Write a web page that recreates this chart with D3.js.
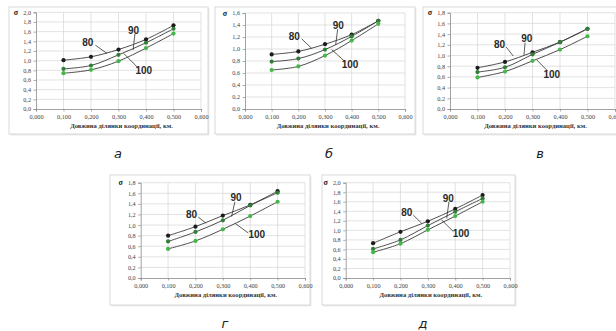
<!DOCTYPE html>
<html>
<head>
<meta charset="utf-8">
<script src="https://cdn.jsdelivr.net/npm/d3@7"></script>
<style>
  html, body { margin: 0; padding: 0; background: #fff; }
</style>
</head>
<body>
<div id="chart"></div>
<script>
// x values (km) shared by all panels
const xValues = [0.1, 0.2, 0.3, 0.4, 0.5];
const xTicks = [0, 0.1, 0.2, 0.3, 0.4, 0.5, 0.6];
const seriesNames = ['80', '90', '100'];
const panelLetters = ['а', 'б', 'в', 'г', 'д'];
const yMaxes = [2.0, 1.6, 1.8, 1.8, 2.0];
const xTitle = 'Довжина ділянки координації, км.';

// σ values
const a80 = [1.01, 1.08, 1.23, 1.44, 1.73];
const a90 = [0.83, 0.90, 1.12, 1.37, 1.66];
const a100 = [0.74, 0.81, 0.99, 1.26, 1.56];

const b80 = [0.91, 0.96, 1.08, 1.24, 1.47];
const b90 = [0.79, 0.84, 0.99, 1.21, 1.47];
const b100 = [0.65, 0.71, 0.89, 1.14, 1.42];

const c80 = [0.77, 0.88, 1.06, 1.25, 1.50];
const c90 = [0.69, 0.78, 1.02, 1.25, 1.50];
const c100 = [0.59, 0.70, 0.90, 1.11, 1.36];

const g80 = [0.80, 0.97, 1.18, 1.38, 1.64];
const g90 = [0.69, 0.87, 1.09, 1.37, 1.61];
const g100 = [0.55, 0.70, 0.92, 1.17, 1.44];

const d80 = [0.73, 0.97, 1.19, 1.45, 1.74];
const d90 = [0.61, 0.80, 1.10, 1.39, 1.67];
const d100 = [0.54, 0.72, 1.01, 1.30, 1.60];

const panelSeries = [
  [a80, a90, a100],
  [b80, b90, b100],
  [c80, c90, c100],
  [g80, g90, g100],
  [d80, d90, d100],
];

// layout: frame box, plot box, letter position
const layout = [
  { frame: [9, 7, 208, 134], plot: [36, 12.3, 201, 109], letter: [118, 153] },
  { frame: [215, 7, 415, 134], plot: [245, 13, 405, 109], letter: [329, 153] },
  { frame: [423, 7, 625, 134], plot: [450, 12.7, 615, 109], letter: [540, 153] },
  { frame: [110, 175, 310, 305], plot: [140.7, 182.7, 305, 278], letter: [225, 323] },
  { frame: [322, 175, 515, 305], plot: [345.7, 182.7, 510, 278], letter: [423, 323] },
];

// annotation text and leader lines in data units: [textX, textY, x1, y1, x2, y2]
const notes = [
  [[0.188, 1.38, 0.216, 1.32, 0.258, 1.15], [0.355, 1.63, 0.36, 1.56, 0.353, 1.22], [0.392, 0.79, 0.319, 1.15, 0.373, 0.84]],
  [[0.185, 1.21, 0.2125, 1.17, 0.25, 1.01], [0.35, 1.40, 0.3475, 1.33, 0.34, 1.07], [0.394, 0.75, 0.325, 0.99, 0.375, 0.79]],
  [[0.18, 1.21, 0.204, 1.16, 0.23, 0.99], [0.279, 1.31, 0.273, 1.24, 0.269, 1.01], [0.37, 0.65, 0.315, 0.92, 0.355, 0.71]],
  [[0.186, 1.20, 0.21, 1.15, 0.239, 1.035], [0.348, 1.52, 0.344, 1.44, 0.332, 1.16], [0.424, 0.83, 0.344, 1.035, 0.393, 0.85]],
  [[0.223, 1.38, 0.247, 1.32, 0.277, 1.15], [0.375, 1.67, 0.377, 1.60, 0.369, 1.25], [0.421, 0.93, 0.35, 1.22, 0.393, 0.975]],
];

const markerColors = ['#1c1c1c', '#2f7f36', '#43b848'];
const width = 616;
const height = 331;

const svg = d3.select('#chart').append('svg')
  .attr('width', width)
  .attr('height', height)
  .attr('viewBox', [0, 0, width, height])
  .attr('xmlns', 'http://www.w3.org/2000/svg');

const fmtX = d3.format('.3f');
const fmtY = d3.format('.1f');
const comma = (s) => s.replace('.', ',');

panelSeries.forEach((series, p) => {
  const L = layout[p];
  const g = svg.append('g');

  // frame with soft shadow
  g.append('rect')
    .attr('x', L.frame[0] + 1.5).attr('y', L.frame[1] + 1.5)
    .attr('width', L.frame[2] - L.frame[0]).attr('height', L.frame[3] - L.frame[1])
    .attr('fill', '#ececec');
  g.append('rect')
    .attr('x', L.frame[0]).attr('y', L.frame[1])
    .attr('width', L.frame[2] - L.frame[0]).attr('height', L.frame[3] - L.frame[1])
    .attr('fill', '#fff')
    .attr('stroke', '#cfcfcf')
    .attr('stroke-width', 0.8);

  const x = d3.scaleLinear().domain([0, 0.6]).range([L.plot[0], L.plot[2]]);
  const y = d3.scaleLinear().domain([0, yMaxes[p]]).range([L.plot[3], L.plot[1]]);
  const yTicks = d3.range(0, Math.round(yMaxes[p] / 0.2) + 1).map(i => i * 0.2);

  // gridlines
  g.append('g')
    .selectAll('line')
    .data(yTicks.slice(1))
    .join('line')
    .attr('x1', x(0)).attr('x2', x(0.6))
    .attr('y1', d => y(d)).attr('y2', d => y(d))
    .attr('stroke', '#d6d6d6').attr('stroke-width', 0.7);
  g.append('g')
    .selectAll('line')
    .data(xTicks.slice(1))
    .join('line')
    .attr('x1', d => x(d)).attr('x2', d => x(d))
    .attr('y1', y(0)).attr('y2', y(yMaxes[p]))
    .attr('stroke', '#d6d6d6').attr('stroke-width', 0.7);

  // axes
  const axisX = d3.axisBottom(x).tickValues(xTicks).tickSize(2.5).tickFormat(d => comma(fmtX(d)));
  const axisY = d3.axisLeft(y).tickValues(yTicks).tickSize(2.5).tickFormat(d => comma(fmtY(d)));

  g.append('g')
    .attr('transform', `translate(0,${y(0)})`)
    .call(axisX)
    .call(a => a.select('.domain').attr('stroke', '#8a8a8a').attr('stroke-width', 0.8))
    .call(a => a.selectAll('.tick line').attr('stroke', '#8a8a8a').attr('stroke-width', 0.7))
    .call(a => a.selectAll('.tick text')
      .attr('y', 6)
      .attr('fill', '#444')
      .attr('font-family', 'Liberation Serif')
      .attr('font-size', 6.2));

  g.append('g')
    .attr('transform', `translate(${x(0)},0)`)
    .call(axisY)
    .call(a => a.select('.domain').attr('stroke', '#8a8a8a').attr('stroke-width', 0.8))
    .call(a => a.selectAll('.tick line').attr('stroke', '#8a8a8a').attr('stroke-width', 0.7))
    .call(a => a.selectAll('.tick text')
      .attr('x', -5)
      .attr('fill', '#444')
      .attr('font-family', 'Liberation Serif')
      .attr('font-size', 6.2));

  // σ label and x title
  g.append('text')
    .attr('x', x(0) - 20)
    .attr('y', y(yMaxes[p]) + 2.5)
    .attr('text-anchor', 'middle')
    .attr('font-family', 'Liberation Serif')
    .attr('font-weight', 'bold')
    .attr('font-size', 8)
    .attr('fill', '#222')
    .text('σ');

  g.append('text')
    .attr('x', (x(0) + x(0.6)) / 2 + 3)
    .attr('y', y(0) + 19)
    .attr('text-anchor', 'middle')
    .attr('font-family', 'Liberation Serif')
    .attr('font-weight', 'bold')
    .attr('font-size', 6.6)
    .attr('fill', '#333')
    .text(xTitle);

  // curves
  const line = d3.line()
    .x((d, i) => x(xValues[i]))
    .y(d => y(d))
    .curve(d3.curveCatmullRom.alpha(0.5));

  series.forEach((vals, s) => {
    g.append('path')
      .attr('d', line(vals))
      .attr('fill', 'none')
      .attr('stroke', '#3a3a3a')
      .attr('stroke-width', 0.9);
  });

  series.forEach((vals, s) => {
    g.append('g')
      .selectAll('circle')
      .data(vals)
      .join('circle')
      .attr('cx', (d, i) => x(xValues[i]))
      .attr('cy', d => y(d))
      .attr('r', 2.1)
      .attr('fill', markerColors[s]);
  });

  // annotations
  notes[p].forEach((n, s) => {
    g.append('line')
      .attr('x1', x(n[2])).attr('y1', y(n[3]))
      .attr('x2', x(n[4])).attr('y2', y(n[5]))
      .attr('stroke', '#333').attr('stroke-width', 0.8);
    g.append('text')
      .attr('x', x(n[0]))
      .attr('y', y(n[1]) + 3.5)
      .attr('text-anchor', 'middle')
      .attr('font-family', 'Liberation Sans')
      .attr('font-weight', 'bold')
      .attr('font-size', 10)
      .attr('fill', '#2a2a2a')
      .text(seriesNames[s]);
  });

  // panel letter
  svg.append('text')
    .attr('x', L.letter[0])
    .attr('y', L.letter[1] + 5)
    .attr('text-anchor', 'middle')
    .attr('font-family', 'DejaVu Sans')
    .attr('font-style', 'italic')
    .attr('font-size', 13)
    .attr('fill', '#222')
    .text(panelLetters[p]);
});
</script>
</body>
</html>
